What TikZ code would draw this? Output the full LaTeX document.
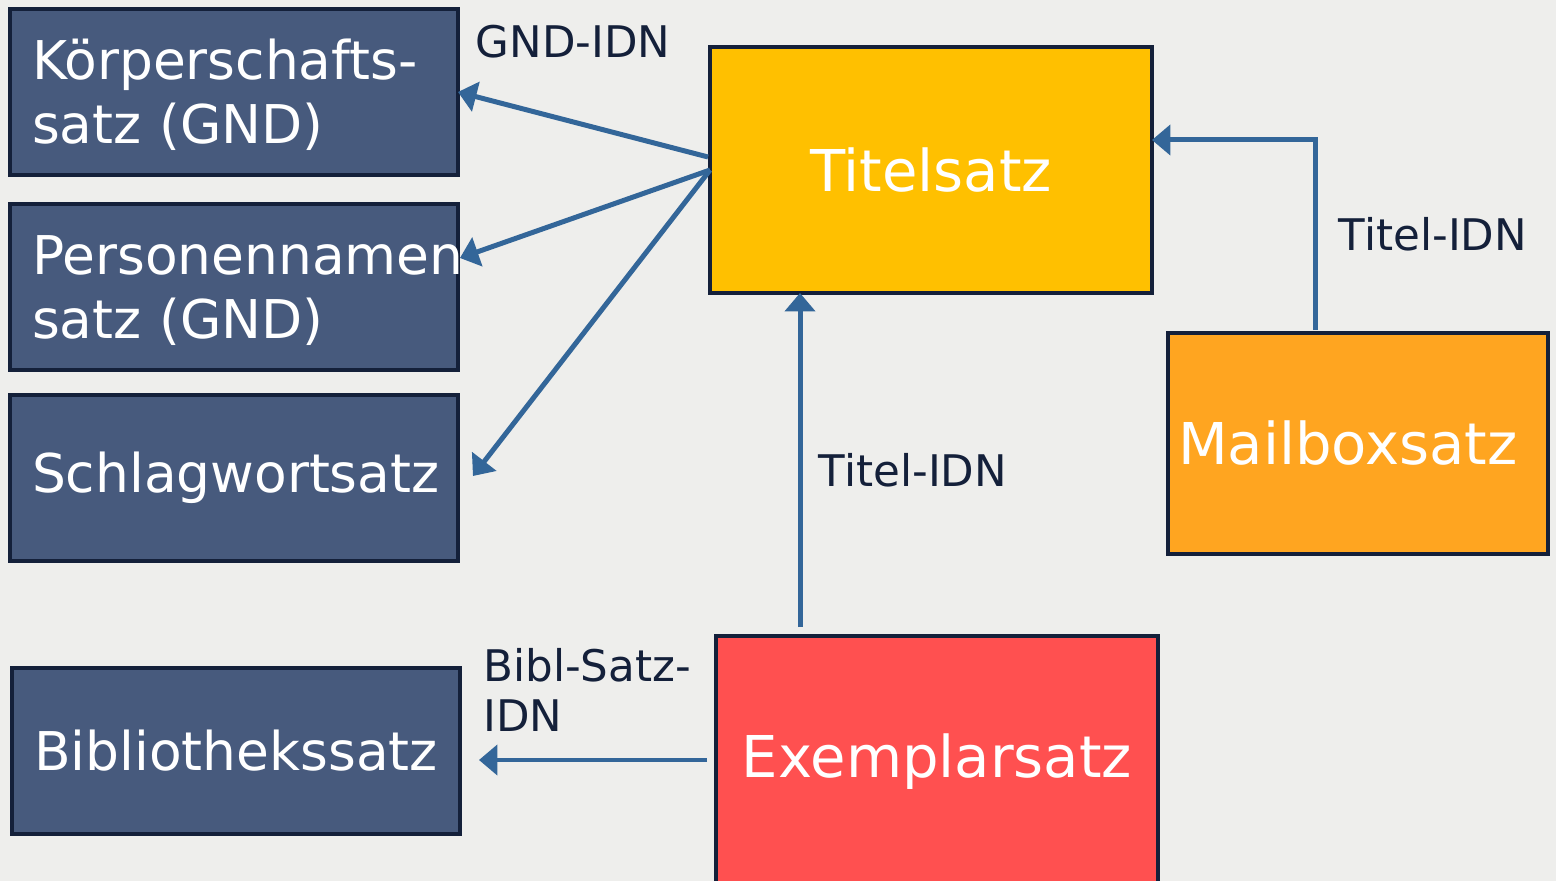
\documentclass[tikz,border=0pt]{standalone}
\usepackage{fontspec}
\setmainfont{DejaVu Sans}
\usepackage{xcolor}
\usetikzlibrary{arrows.meta,calc,positioning}

\definecolor{bg}{HTML}{EEEEEC}
\definecolor{navy}{HTML}{475A7D}
\definecolor{rim}{HTML}{14203A}
\definecolor{gold}{HTML}{FFC000}
\definecolor{amber}{HTML}{FFA520}
\definecolor{coral}{HTML}{FF5050}
\definecolor{steel}{HTML}{336699}

\begin{document}
\begin{tikzpicture}[x=0.02cm, y=-0.02cm,
		recbox/.style={rectangle, draw=rim, line width=0.08cm, outer sep=0pt, inner sep=0pt, text=white},
		gndbox/.style={recbox, fill=navy, minimum width=8.96cm, minimum height=3.32cm, inner xsep=0.44cm,
			text width=8.08cm, align=left, font=\fontsize{30.4}{36.4}\selectfont},
		mainbox/.style={recbox, font=\fontsize{32.8}{39}\selectfont},
		idn/.style={text=rim, inner sep=0pt, font=\fontsize{24.8}{28.5}\selectfont},
		link/.style={-{Triangle[length=0.37cm, width=0.6cm]}, draw=steel, line width=0.1cm}
		]
	
		\fill[bg] (0,0) rectangle (1556,881);
		\useasboundingbox (0,0) rectangle (1556,881);
	
		% GND records on the left
		\node[gndbox, text height=0.92cm] (koerper) at (234, 92) {Körperschafts-\\satz (GND)};
		\node[gndbox, text height=0.92cm] (person) at (234, 287) {Personennamen\\satz (GND)};
		\node[gndbox, align=center] (schlag) at (234, 478) {Schlagwortsatz};
		\node[gndbox, align=center] (bib) at (236, 751) {Bibliothekssatz};
	
		% title, mailbox and copy records
		\node[mainbox, fill=gold, minimum width=8.84cm, minimum height=4.92cm] (titel) at (931, 170) {Titelsatz};
		\node[mainbox, fill=amber, minimum width=7.6cm, minimum height=4.42cm, inner xsep=0.2cm,
			text width=7.2cm, align=left] (mailbox) at (1358, 443.5) {Mailboxsatz};
		\node[mainbox, fill=coral, minimum width=8.84cm, minimum height=5.04cm] (exemplar) at (937, 762) {Exemplarsatz};
	
		% link labels
		\node[idn] (gnd-idn) at (573, 42) {GND-IDN};
		\node[idn] (titel-idn-a) at (913, 470) {Titel-IDN};
		\node[idn] (titel-idn-b) at (1433, 234) {Titel-IDN};
		\node[idn, align=left, anchor=north west] (bibl-idn) at (483, 648) {Bibl-Satz-\\IDN};
	
		\coordinate (ex-top) at ($(exemplar.north)+(-137,-9)$);
		\coordinate (mb-top) at ($(mailbox.north)+(-43,-3)$);
	
		\draw[link] ($(titel.west)+(-2,-13)$) -- (koerper.east);
		\draw[link] (titel.west) -- ($(person.east)+(2,-29)$);
		\draw[link] (titel.west) -- ($(schlag.east)+(15,-2)$);
		\draw[link] (ex-top) -- (ex-top |- titel.south);
		\draw[link] (mb-top) |- ($(titel.east)+(0,-30)$);
		\draw[link] ($(exemplar.west)+(-9,-2)$) -- ($(bib.east)+(19,9)$);
	
	\end{tikzpicture}
\end{document}
